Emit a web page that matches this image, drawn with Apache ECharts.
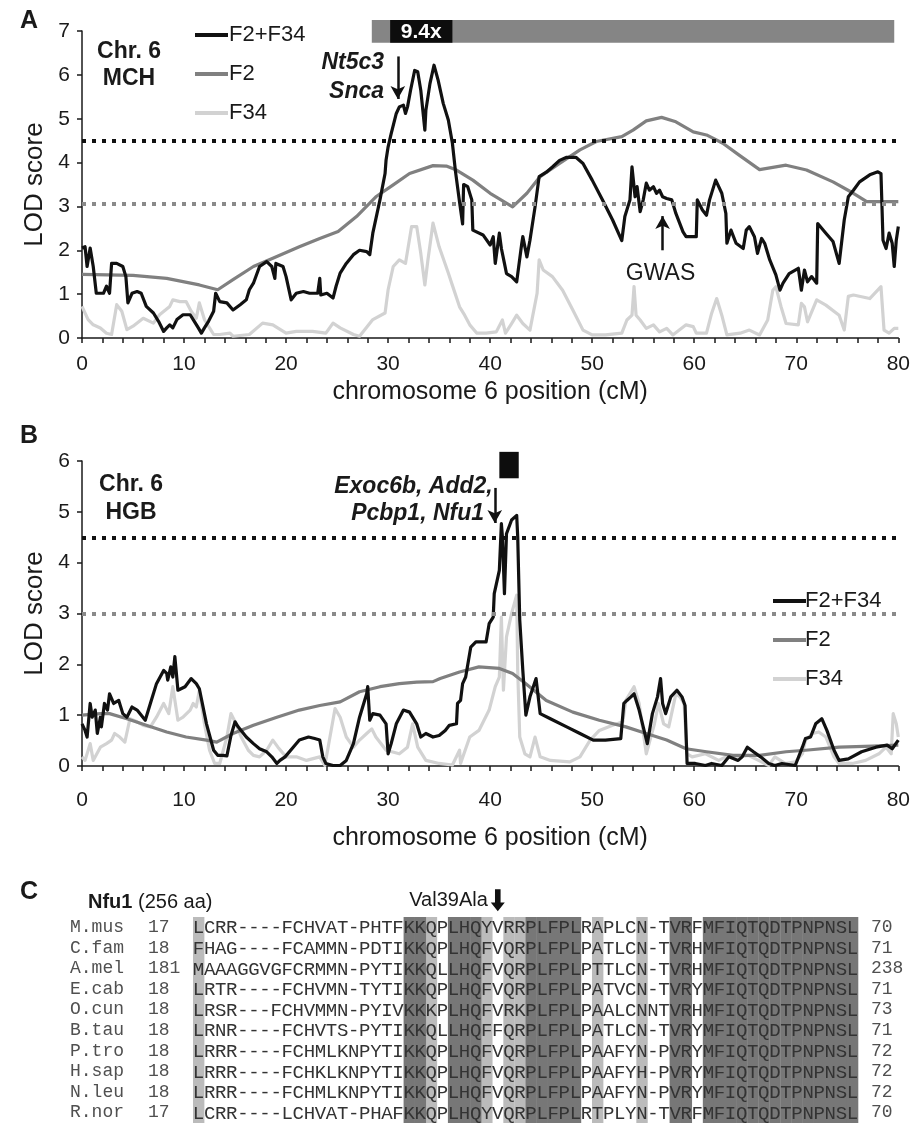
<!DOCTYPE html>
<html><head><meta charset="utf-8">
<script src="https://cdn.jsdelivr.net/npm/echarts@6/dist/echarts.min.js"></script>
<style>html,body{margin:0;padding:0;background:#fff}#c{width:913px;height:1123px}</style>
</head><body><div id="c"></div>
<script>
// ---------- DATA ----------
const seriesNames = ['F2+F34', 'F2', 'F34'];
const xTicksMax = 80;

// Panel A (MCH)
const aF2F34 = [[0,2.05],[0.3,2.08],[0.5,1.63],[0.8,2.05],[1.1,1.63],[1.4,1.02],[2.1,1.02],[2.4,1.18],[2.7,1.02],[2.9,1.7],[3.4,1.7],[4.0,1.63],[4.3,1.4],[4.5,0.8],[4.9,1.02],[5.4,1.06],[5.8,1.02],[6.3,0.72],[7.0,0.57],[7.5,0.38],[8.0,0.15],[8.3,0.23],[8.6,0.3],[8.9,0.23],[9.3,0.42],[9.9,0.53],[10.6,0.53],[10.9,0.42],[11.4,0.23],[11.7,0.11],[12.0,0.23],[12.4,0.38],[12.9,0.61],[13.1,1.02],[13.5,0.83],[14.2,0.8],[14.8,0.64],[15.5,0.76],[16.1,0.87],[16.4,1.1],[16.8,1.25],[17.4,1.63],[18.1,1.74],[18.6,1.63],[18.9,1.36],[19.0,1.7],[19.7,1.63],[20.0,1.4],[20.5,0.87],[21.0,1.02],[21.7,1.06],[22.3,1.02],[23.1,1.02],[23.3,1.36],[23.4,0.98],[24.0,1.02],[24.6,0.91],[24.9,1.18],[25.3,1.48],[25.9,1.7],[26.6,1.9],[27.2,2.0],[27.9,1.97],[28.2,1.9],[28.5,2.39],[29.2,3.15],[29.7,3.75],[29.8,4.06],[30.0,4.36],[30.3,4.66],[30.8,5.12],[31.1,5.27],[31.5,5.31],[31.7,5.12],[31.9,5.27],[32.2,5.65],[32.6,6.1],[32.9,6.07],[33.2,5.65],[33.6,4.74],[33.7,5.19],[34.1,5.8],[34.5,6.22],[34.9,5.88],[35.4,5.35],[35.9,4.97],[36.3,4.44],[36.6,3.8],[37.0,3.1],[37.3,2.6],[37.4,3.5],[37.8,3.45],[38.2,3.15],[38.3,2.46],[39.3,2.35],[40.0,2.12],[40.3,2.31],[40.5,1.7],[40.9,2.39],[41.1,2.04],[41.4,1.7],[41.6,1.47],[42.1,1.4],[42.6,1.28],[43.1,2.16],[43.2,2.31],[43.6,1.85],[43.9,2.23],[44.4,2.99],[44.8,3.68],[45.5,3.78],[46.1,3.9],[46.8,4.05],[47.5,4.12],[48.4,4.12],[49.1,3.98],[50.0,3.6],[51.0,3.15],[52.0,2.69],[52.9,2.22],[53.2,2.77],[53.7,3.15],[53.9,3.9],[54.2,3.22],[54.4,3.45],[54.7,2.88],[55.0,3.15],[55.3,3.53],[55.6,3.37],[56.0,3.45],[56.3,3.3],[56.6,3.37],[56.9,3.22],[57.3,3.18],[57.8,3.15],[58.2,2.84],[58.9,2.42],[59.2,2.31],[60.2,2.31],[60.3,3.15],[60.8,2.92],[61.2,2.8],[61.5,3.15],[62.1,3.6],[62.7,3.3],[63.1,2.84],[63.2,2.16],[63.6,2.46],[64.1,2.16],[64.8,2.04],[65.1,2.46],[65.4,2.54],[65.9,2.31],[66.2,1.93],[66.6,2.27],[66.9,2.16],[67.4,1.78],[68.0,1.44],[68.4,1.09],[68.7,1.25],[69.3,1.47],[70.2,1.59],[70.5,1.09],[70.8,1.55],[71.1,1.28],[71.5,1.4],[72.0,1.25],[72.1,2.61],[72.9,2.39],[73.6,2.2],[74.2,1.7],[74.7,2.69],[75.1,3.22],[75.6,3.37],[76.2,3.56],[77.2,3.72],[78.0,3.79],[78.3,3.75],[78.5,2.23],[78.8,2.04],[79.1,2.39],[79.4,2.16],[79.6,1.63],[79.8,2.23],[80,2.54]];
const aF2 = [[0,1.45],[5.0,1.43],[8.3,1.36],[11.5,1.21],[13.3,1.1],[14.8,1.33],[16.8,1.63],[18.7,1.82],[21.3,2.08],[23.3,2.27],[25.1,2.43],[26.9,2.77],[28.8,3.22],[30.5,3.49],[32.1,3.75],[34.4,3.93],[35.7,3.92],[36.7,3.83],[38.3,3.6],[40.0,3.3],[42.2,2.99],[43.6,3.3],[44.9,3.68],[46.8,3.98],[48.8,4.29],[50.4,4.48],[52.9,4.59],[54.0,4.74],[55.3,4.95],[56.8,5.03],[58.2,4.93],[59.9,4.7],[61.2,4.63],[62.8,4.44],[64.4,4.17],[66.4,3.84],[69.0,3.94],[71.0,3.83],[73.6,3.56],[75.6,3.3],[76.9,3.11],[80,3.11]];
const aF34 = [[0,0.72],[0.6,0.42],[1.1,0.3],[1.8,0.23],[2.4,0.11],[2.9,0.08],[3.4,0.76],[3.9,0.61],[4.4,0.19],[5.0,0.27],[6.0,0.45],[7.0,0.34],[7.6,0.53],[8.6,0.72],[8.9,0.87],[9.6,0.83],[10.2,0.83],[10.7,0.61],[11.2,0.45],[11.5,0.8],[12.0,0.42],[12.9,0.08],[13.5,0.08],[14.5,0.11],[14.8,0.04],[16.4,0.08],[17.7,0.34],[18.7,0.3],[20.0,0.11],[21.0,0.15],[22.6,0.15],[23.9,0.11],[24.6,0.34],[25.3,0.23],[26.6,0.08],[27.2,0.04],[28.5,0.42],[29.7,0.57],[30.0,1.1],[30.5,1.63],[31.1,1.78],[31.7,1.7],[32.3,2.54],[32.8,2.54],[33.2,1.93],[33.6,1.21],[33.9,1.78],[34.4,2.62],[35.0,2.08],[35.9,1.48],[36.3,1.2],[37.0,0.71],[37.5,0.52],[38.0,0.3],[38.7,0.11],[39.6,0.11],[40.6,0.14],[41.2,0.41],[41.5,0.11],[42.1,0.33],[42.6,0.52],[43.2,0.33],[43.9,0.18],[44.6,1.02],[44.8,1.78],[45.2,1.55],[46.1,1.4],[47.1,1.09],[48.1,0.64],[49.1,0.18],[50.0,0.07],[51.3,0.07],[52.9,0.11],[53.4,0.41],[53.9,0.52],[54.1,1.17],[54.3,0.52],[54.7,0.41],[55.3,0.22],[56.0,0.3],[56.6,0.14],[57.3,0.22],[57.9,0.07],[59.2,0.3],[59.9,0.26],[60.2,0.11],[61.2,0.11],[61.7,0.56],[62.2,0.9],[62.7,0.52],[63.2,0.07],[64.5,0.11],[65.4,0.18],[66.4,0.07],[67.2,0.41],[67.7,1.09],[68.0,1.17],[68.5,0.72],[69.0,0.33],[70.2,0.3],[70.5,0.79],[70.8,0.71],[71.1,0.37],[72.0,0.87],[72.9,0.75],[74.2,0.52],[74.7,0.18],[75.1,0.95],[75.6,0.98],[77.2,0.9],[78.3,1.17],[78.6,0.18],[79.1,0.11],[79.6,0.22],[80,0.22]];
const aThresholds = [4.5, 3.05];
const aInterval = [[28.4, 79.6, 6.73, 7.25], [30.2, 36.3, 6.73, 7.25]];
const aIntervalLabel = ['', '9.4x'];

// Panel B (HGB)
const bF2F34 = [[0,0.83],[0.3,0.7],[0.5,0.57],[0.8,1.23],[1.0,0.96],[1.3,1.1],[1.5,0.64],[1.8,0.96],[1.9,0.77],[2.2,1.23],[2.5,1.1],[2.7,1.42],[3.1,1.23],[3.6,1.29],[4.0,1.03],[4.4,0.96],[4.9,1.16],[5.4,1.1],[6.2,0.9],[6.7,1.23],[7.3,1.62],[8.0,1.88],[8.3,1.82],[8.4,1.69],[8.7,1.95],[8.9,1.75],[9.1,2.15],[9.4,1.49],[10.1,1.56],[10.7,1.72],[11.2,1.62],[11.5,1.52],[12.2,0.83],[12.9,0.31],[13.3,0.21],[13.8,0.21],[14.2,0.2],[14.6,0.6],[15.0,0.87],[15.3,0.77],[16.1,0.57],[16.8,0.44],[17.4,0.34],[18.1,0.28],[18.6,0.18],[19.1,0.05],[19.4,0.11],[19.9,0.18],[20.7,0.37],[21.3,0.51],[22.2,0.57],[22.8,0.54],[23.3,0.51],[23.6,0.18],[23.9,0.05],[24.6,0.01],[25.3,0.01],[25.9,0.11],[26.6,0.44],[27.2,0.96],[27.9,1.42],[28.0,1.56],[28.2,0.9],[28.5,1.03],[29.2,1.0],[29.8,0.83],[30.0,0.24],[30.3,0.44],[30.8,0.83],[31.5,1.1],[32.1,1.06],[32.8,0.83],[33.2,0.57],[33.7,0.64],[34.4,0.57],[35.0,0.6],[35.6,0.7],[36.0,0.8],[36.7,0.83],[36.8,1.23],[37.1,1.29],[37.3,1.62],[37.6,1.75],[38.1,2.34],[38.6,2.44],[39.6,2.44],[39.9,2.8],[40.3,2.93],[40.4,3.39],[40.9,3.85],[41.1,4.77],[41.2,4.51],[41.4,3.39],[41.6,4.57],[42.1,4.84],[42.6,4.93],[42.7,4.51],[42.9,2.87],[43.2,1.88],[43.5,1.0],[43.9,1.36],[44.5,1.72],[44.9,1.03],[45.9,0.93],[47.5,0.77],[48.8,0.64],[50.1,0.51],[51.3,0.51],[52.8,0.54],[53.1,1.23],[53.4,1.29],[53.8,1.36],[54.1,1.42],[54.6,1.1],[55.4,0.44],[55.9,1.03],[56.4,1.36],[56.7,1.72],[56.9,1.23],[57.2,1.03],[57.7,1.36],[58.3,1.49],[58.8,1.36],[59.1,1.19],[59.3,0.05],[60.1,0.05],[61.1,0.01],[61.7,0.05],[62.7,0.01],[63.4,0.18],[64.3,0.11],[64.7,0.18],[65.2,0.37],[65.8,0.28],[66.5,0.18],[67.3,0.05],[67.9,0.01],[68.6,0.05],[69.9,0.01],[70.6,0.37],[70.9,0.54],[71.4,0.57],[71.9,0.83],[72.5,0.93],[73.0,0.7],[73.7,0.31],[74.2,0.11],[75.1,0.14],[76.4,0.28],[77.8,0.37],[78.9,0.41],[79.4,0.34],[80,0.51]];
const bF2 = [[0,1.0],[1.8,1.03],[2.7,1.03],[4.4,0.93],[6.3,0.8],[8.3,0.67],[10.2,0.57],[12.2,0.51],[13.2,0.47],[14.8,0.64],[16.8,0.8],[19.1,0.96],[21.3,1.1],[23.3,1.19],[25.3,1.26],[27.2,1.46],[29.2,1.56],[31.1,1.62],[32.8,1.65],[34.4,1.66],[35.1,1.72],[37.0,1.85],[38.9,1.95],[40.9,1.92],[42.2,1.82],[43.5,1.62],[45.5,1.29],[48.1,1.06],[50.7,0.9],[53.3,0.77],[55.3,0.64],[57.3,0.51],[59.2,0.34],[61.2,0.28],[63.8,0.21],[66.4,0.21],[69.0,0.28],[70.9,0.31],[74.2,0.37],[77.5,0.39],[80,0.41]];
const bF34 = [[0,0.18],[0.3,0.11],[0.8,0.44],[1.1,0.11],[1.8,0.37],[2.4,0.44],[2.9,0.51],[3.2,0.64],[3.7,0.57],[4.2,0.47],[4.7,0.93],[5.4,0.87],[6.0,0.8],[6.7,0.77],[7.3,0.96],[8.0,1.23],[8.5,1.03],[8.9,1.56],[9.4,0.9],[9.9,0.96],[10.6,1.1],[10.9,1.23],[11.2,1.16],[11.5,1.49],[12.0,0.83],[12.5,0.31],[13.0,0.05],[13.5,0.05],[14.2,0.57],[14.6,1.03],[15.1,0.83],[15.6,0.57],[16.3,0.31],[16.8,0.21],[17.4,0.18],[18.1,0.31],[18.7,0.51],[19.2,0.37],[20.0,0.18],[21.0,0.18],[22.0,0.11],[23.3,0.18],[23.8,0.01],[24.3,0.57],[24.8,1.13],[25.3,0.96],[25.9,0.57],[26.6,0.37],[27.2,0.51],[27.9,0.64],[28.4,0.73],[28.8,0.57],[29.8,0.31],[31.1,0.24],[31.9,0.37],[32.4,0.83],[32.9,0.37],[33.7,0.11],[35.0,0.05],[36.3,0.02],[37.0,0.31],[37.1,0.05],[38.0,0.57],[38.9,0.7],[39.9,1.1],[40.5,1.56],[40.9,1.75],[41.1,2.93],[41.3,1.49],[41.6,2.54],[42.1,3.0],[42.6,3.36],[42.7,1.88],[42.9,0.57],[43.4,0.24],[43.9,0.18],[44.4,0.57],[44.9,0.18],[45.9,0.11],[47.8,0.08],[48.8,0.18],[49.8,0.51],[50.7,0.7],[52.0,0.8],[53.0,0.87],[53.3,1.29],[54.1,1.56],[54.6,1.23],[55.3,0.24],[56.1,0.83],[56.5,1.23],[57.0,0.83],[57.5,0.77],[58.2,1.42],[58.6,1.36],[59.0,1.23],[59.3,0.24],[59.8,0.18],[61.1,0.24],[62.4,0.11],[63.4,0.21],[64.3,0.18],[65.3,0.21],[66.3,0.11],[67.3,0.01],[67.9,0.18],[68.9,0.05],[69.9,0.08],[70.6,0.24],[70.9,0.51],[71.6,0.64],[72.2,0.67],[72.9,0.57],[73.7,0.18],[74.2,0.05],[75.5,0.05],[76.8,0.11],[78.1,0.24],[78.8,0.37],[79.3,0.24],[79.5,1.03],[79.8,0.83],[80,0.57]];
const bThresholds = [4.5, 3.0];
const bInterval = [[40.9, 42.8, 5.66, 6.18]];

// Panel C (Nfu1 alignment)
const species = ['M.mus','C.fam','A.mel','E.cab','O.cun','B.tau','P.tro','H.sap','N.leu','R.nor'];
const startPos = [17,18,181,18,18,18,18,18,18,17];
const endPos = [70,71,238,71,73,71,72,72,72,70];
const sequences = [
 'LCRR----FCHVAT-PHTFKKQPLHQYVRRPLFPLRAPLCN-TVRFMFIQTQDTPNPNSL',
 'FHAG----FCAMMN-PDTIKKQPLHQFVQRPLFPLPATLCN-TVRHMFIQTQDTPNPNSL',
 'MAAAGGVGFCRMMN-PYTIKKQLLHQFVQRPLFPLPTTLCN-TVRHMFIQTQDTPNPNSL',
 'LRTR----FCHVMN-TYTIKKQPLHQFVQRPLFPLPATVCN-TVRYMFIQTQDTPNPNSL',
 'LRSR---FCHVMMN-PYIVKKKPLHQFVRKPLFPLPAALCNNTVRHMFIQTQDTPNPNSL',
 'LRNR----FCHVTS-PYTIKKQLLHQFFQRPLFPLPATLCN-TVRYMFIQTQDTPNPNSL',
 'LRRR----FCHMLKNPYTIKKQPLHQFVQRPLFPLPAAFYN-PVRYMFIQTQDTPNPNSL',
 'LRRR----FCHKLKNPYTIKKQPLHQFVQRPLFPLPAAFYH-PVRYMFIQTQDTPNPNSL',
 'LRRR----FCHMLKNPYTIKKQPLHQFVQRPLFPLPAAFYN-PVRYMFIQTQDTPNPNSL',
 'LCRR----LCHVAT-PHAFKKQPLHQYVQRPLFPLRTPLYN-TVRFMFIQTQDTPNPNSL'
];
const partialCols = [0,21,26,28,29,36,40];
const identicalCols = [19,20,23,24,25,30,31,32,33,34,43,44,46,47,48,49,50,51,52,53,54,55,56,57,58,59];
const mutationCol = 27;

// ---------- BUILD ----------
const nCols = sequences[0].length;
const colCats = Array.from({length:nCols}, (_, i) => i);
const shadeData = [];
partialCols.forEach(c => shadeData.push([c, 1]));
identicalCols.forEach(c => shadeData.push([c, 2]));
const letterData = [];
sequences.forEach((s, r) => { for (let c = 0; c < s.length; c++) letterData.push([c, r, s[c]]); });

const INK = '#1a1a1a';
const FONT = 'Liberation Sans, Arial, sans-serif';
const MONO = 'Liberation Mono, Courier New, monospace';
const colors = {'F2+F34':'#111111', 'F2':'#808080', 'F34':'#d2d2d2'};

function xAxisDef(gi, labelMargin, nameGap) {
  return {
    type:'value', gridIndex:gi, min:0, max:xTicksMax, interval:10,
    axisLine:{show:true, onZero:false, lineStyle:{color:INK, width:1.5}},
    axisTick:{show:true, length:5, lineStyle:{color:INK, width:1.5}},
    minorTick:{show:true, splitNumber:5, length:5, lineStyle:{color:INK, width:1.5}},
    splitLine:{show:false}, minorSplitLine:{show:false},
    axisLabel:{fontSize:21, color:INK, margin:labelMargin, fontFamily:FONT},
    name:'chromosome 6 position (cM)', nameLocation:'middle', nameGap:nameGap,
    nameTextStyle:{fontSize:25, color:INK, fontFamily:FONT}
  };
}
function yAxisDef(gi, max) {
  return {
    type:'value', gridIndex:gi, min:0, max:max, interval:1,
    axisLine:{show:true, lineStyle:{color:INK, width:1.5}},
    axisTick:{show:true, length:5, lineStyle:{color:INK, width:1.5}},
    splitLine:{show:false},
    axisLabel:{fontSize:21, color:INK, margin:12, fontFamily:FONT},
    name:'LOD score', nameLocation:'middle', nameGap:24,
    nameTextStyle:{fontSize:26, color:INK, fontFamily:FONT}
  };
}
function lineSeries(name, gi, data, z, extra) {
  return Object.assign({
    type:'line', name:name, xAxisIndex:gi, yAxisIndex:gi, data:data,
    showSymbol:false, symbol:'none', color:colors[name], z:z, silent:true,
    lineStyle:{width:3.2, color:colors[name], join:'round'}
  }, extra || {});
}
function thresholdLines(th) {
  return [
    {yAxis:th[0], lineStyle:{color:'#111', type:[4,6], width:4}},
    {yAxis:th[1], lineStyle:{color:'#8a8a8a', type:[4,6], width:4}}
  ];
}
function arrowLine(x, yFrom, yTo) {
  return [
    {coord:[x, yFrom], symbol:'none', lineStyle:{color:'#111', type:'solid', width:2.5}},
    {coord:[x, yTo], symbol:'arrow', symbolSize:[11,13], lineStyle:{color:'#111', type:'solid', width:2.5}}
  ];
}
function textPoint(coord, text, pos, style) {
  return {coord:coord, symbol:'circle', symbolSize:0,
    label:Object.assign({show:true, position:pos, distance:0, formatter:text, color:INK, fontFamily:FONT}, style)};
}
function intervalSeries(gi, data, labels) {
  return {
    type:'custom', xAxisIndex:gi, yAxisIndex:gi, silent:true, clip:false, z:5,
    data:data.map((d, i) => d.concat([i])),
    renderItem:function(params, api){
      const p0 = api.coord([api.value(0), api.value(3)]);
      const p1 = api.coord([api.value(1), api.value(2)]);
      const idx = api.value(4);
      const isBlack = gi === 1 || idx === 1;
      const children = [{type:'rect', shape:{x:p0[0], y:p0[1], width:p1[0]-p0[0], height:p1[1]-p0[1]},
        style:{fill:isBlack ? '#0d0d0d' : '#858585'}}];
      if (labels && labels[idx]) children.push({type:'text', style:{text:labels[idx],
        x:(p0[0]+p1[0])/2, y:(p0[1]+p1[1])/2+1, align:'center', verticalAlign:'middle',
        fill:'#fff', font:'bold 21px ' + FONT}});
      return {type:'group', children:children};
    }
  };
}

const option = {
  animation:false,
  backgroundColor:'#fff',
  textStyle:{fontFamily:FONT},
  grid:[
    {left:82, top:31, width:817, height:307},
    {left:82, top:461, width:817, height:305},
    {left:193, top:917, width:665, height:206}
  ],
  xAxis:[
    xAxisDef(0, 16, 42), xAxisDef(1, 24, 60),
    {type:'category', gridIndex:2, data:colCats, show:false, boundaryGap:true}
  ],
  yAxis:[
    yAxisDef(0, 7), yAxisDef(1, 6),
    {type:'category', gridIndex:2, data:species, inverse:true, position:'left',
      axisLine:{show:false}, axisTick:{show:false}, splitLine:{show:false},
      axisLabel:{interval:0, align:'left', margin:123, formatter:(v, i) => '{n|' + v + '}{k|' + startPos[i] + '}',
        rich:{n:{width:78, fontFamily:MONO, fontSize:18, color:'#505050'}, k:{fontFamily:MONO, fontSize:18, color:'#505050'}}}},
    {type:'category', gridIndex:2, data:species, inverse:true, position:'right',
      axisLine:{show:false}, axisTick:{show:false}, splitLine:{show:false},
      axisLabel:{interval:0, margin:13, formatter:(v, i) => String(endPos[i]), fontFamily:MONO, fontSize:18, color:'#505050'}}
  ],
  legend:[
    {left:190, top:19, orient:'vertical', itemGap:17, itemWidth:33, itemHeight:4, icon:'rect',
      selectedMode:false, data:seriesNames, textStyle:{fontSize:22, color:INK, fontFamily:FONT, padding:[0,0,0,-4]}},
    {left:768, top:585, orient:'vertical', itemGap:17, itemWidth:33, itemHeight:4, icon:'rect',
      selectedMode:false, data:seriesNames, textStyle:{fontSize:22, color:INK, fontFamily:FONT, padding:[0,0,0,-6]}}
  ],
  series:[
    // Panel A
    lineSeries('F34', 0, aF34, 2),
    lineSeries('F2', 0, aF2, 3),
    lineSeries('F2+F34', 0, aF2F34, 4, {
      markLine:{silent:true, symbol:'none', label:{show:false}, animation:false,
        data:thresholdLines(aThresholds).concat([arrowLine(30.95, 6.42, 5.45), arrowLine(56.9, 2.0, 2.78)])},
      markPoint:{silent:true, animation:false, data:[
        textPoint([29.6, 5.94], 'Nt5c3\nSnca', 'left', {fontSize:23, fontWeight:'bold', fontStyle:'italic', lineHeight:29, align:'right'}),
        textPoint([56.7, 1.46], 'GWAS', 'inside', {fontSize:23})
      ]}
    }),
    intervalSeries(0, aInterval, aIntervalLabel),
    // Panel B
    lineSeries('F34', 1, bF34, 2),
    lineSeries('F2', 1, bF2, 3),
    lineSeries('F2+F34', 1, bF2F34, 4, {
      markLine:{silent:true, symbol:'none', label:{show:false}, animation:false,
        data:thresholdLines(bThresholds).concat([arrowLine(40.45, 5.47, 4.78)])},
      markPoint:{silent:true, animation:false, data:[
        textPoint([40.25, 5.49], 'Exoc6b, Add2,', 'left', {fontSize:23, fontWeight:'bold', fontStyle:'italic', align:'right'}),
        textPoint([39.4, 4.96], 'Pcbp1, Nfu1', 'left', {fontSize:23, fontWeight:'bold', fontStyle:'italic', align:'right'})
      ]}
    }),
    intervalSeries(1, bInterval, null),
    // Panel C shading
    {type:'custom', xAxisIndex:2, yAxisIndex:2, silent:true, z:1, data:shadeData,
      renderItem:function(params, api){
        const c = api.value(0);
        const top = api.coord([c, 0]);
        const bot = api.coord([c, species.length - 1]);
        const sz = api.size([1, 1]);
        return {type:'rect', shape:{x:top[0]-sz[0]/2, y:top[1]-sz[1]/2, width:sz[0]+0.3, height:bot[1]-top[1]+sz[1]},
          style:{fill:api.value(1) === 2 ? '#777777' : '#bbbbbb'}};
      }},
    // Panel C letters
    {type:'custom', xAxisIndex:2, yAxisIndex:2, silent:true, z:2, data:letterData,
      dimensions:['col','row',{name:'ch', type:'ordinal'}],
      renderItem:function(params, api){
        const d = letterData[params.dataIndex];
        const p = api.coord([d[0], d[1]]);
        return {type:'text', style:{text:d[2], x:p[0], y:p[1]+1, align:'center', verticalAlign:'middle',
          font:'19px ' + MONO, fill:'#333333'}};
      },
      markPoint:{silent:true, animation:false, data:[
        {coord:[mutationCol, 0], symbol:'path://M3,0 L7,0 L7,12 L10,12 L5,20 L0,12 L3,12 Z', symbolSize:[14,22],
          symbolOffset:[0,-27], itemStyle:{color:'#111'},
          label:{show:true, position:'left', distance:3, formatter:'Val39Ala', fontSize:20, color:INK, fontFamily:FONT}}
      ]}}
  ],
  graphic:[
    {type:'text', left:20, top:9, style:{text:'A', font:'bold 25px ' + FONT, fill:INK}},
    {type:'text', left:20, top:424, style:{text:'B', font:'bold 25px ' + FONT, fill:INK}},
    {type:'text', left:20, top:880, style:{text:'C', font:'bold 25px ' + FONT, fill:INK}},
    {type:'text', x:129, y:38, style:{text:'Chr. 6\nMCH', font:'bold 23px ' + FONT, fill:INK, align:'center', lineHeight:27}},
    {type:'text', x:131, y:471, style:{text:'Chr. 6\nHGB', font:'bold 23px ' + FONT, fill:INK, align:'center', lineHeight:28}},
    {type:'text', x:88, y:892, style:{text:'{b|Nfu1} (256 aa)', font:'20px ' + FONT, fill:INK,
      rich:{b:{fontWeight:'bold', fontSize:20, fontFamily:FONT, fill:INK}}}}
  ]
};

const chart = echarts.init(document.getElementById('c'), null, {renderer:'canvas'});
chart.setOption(option);
</script>
</body></html>
